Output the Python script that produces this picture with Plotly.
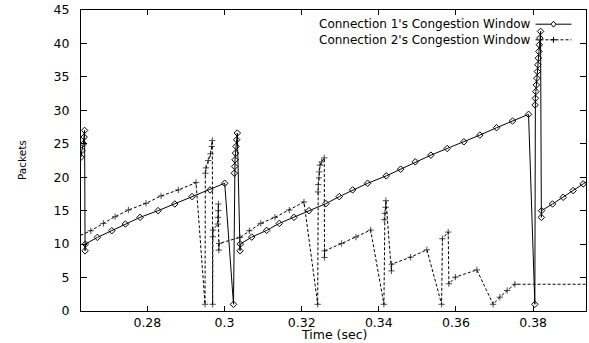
import plotly.graph_objects as go

# Connection 1 congestion window (time in s, packets)
conn1_t = [0.26280, 0.26301, 0.26342, 0.26360, 0.26373, 0.26386, 0.26391,
           0.26705, 0.27078, 0.27430, 0.27811, 0.28277, 0.28710, 0.29158,
           0.29624, 0.30005, 0.30233, 0.30254, 0.30262, 0.30272, 0.30285,
           0.30298, 0.30316, 0.30332, 0.30402, 0.30409, 0.30705, 0.31093,
           0.31420, 0.31800, 0.32189, 0.32629, 0.32974, 0.33321, 0.33710,
           0.34192, 0.34565, 0.34943, 0.35350, 0.35772, 0.36205, 0.36619,
           0.37052, 0.37466, 0.37881, 0.38044, 0.38050, 0.38058, 0.38070,
           0.38083, 0.38096, 0.38109, 0.38122, 0.38135, 0.38148, 0.38161,
           0.38174, 0.38192, 0.38213, 0.38218, 0.38503, 0.38778, 0.39037,
           0.39296, 0.39560]
conn1_w = [23, 24, 25, 26, 27, 9, 10,
           11, 12, 13, 14, 15, 16, 17.1,
           18.1, 19.1, 1, 20.6, 21.6, 22.6, 23.6,
           24.6, 25.6, 26.6, 9, 10, 11.05, 12.05,
           13.1, 14.0, 15.0, 16.05, 17.1, 18.1, 19.1,
           20.2, 21.2, 22.3, 23.3, 24.3, 25.3, 26.3,
           27.4, 28.4, 29.4, 1, 30.8, 31.8, 32.8,
           33.8, 34.8, 35.8, 36.8, 37.8, 38.8, 39.8,
           40.8, 41.8, 14, 15, 16, 17, 18,
           19, 20]

# Connection 2 congestion window (time in s, packets)
conn2_t = [0.26153, 0.26534, 0.26860, 0.27163, 0.27508, 0.27966, 0.28355,
           0.28803, 0.29262, 0.29495, 0.29503, 0.29521, 0.29580, 0.29637,
           0.29668, 0.29684, 0.29692, 0.29697, 0.29702, 0.29824, 0.29832,
           0.29837, 0.29842, 0.29852, 0.29860, 0.30402, 0.30643, 0.30938,
           0.31308, 0.31679, 0.32060, 0.32415, 0.32422, 0.32430, 0.32448,
           0.32456, 0.32474, 0.32518, 0.32586, 0.32591, 0.32596, 0.33036,
           0.33407, 0.33788, 0.34132, 0.34140, 0.34158, 0.34176, 0.34184,
           0.34326, 0.34332, 0.34824, 0.35246, 0.35627, 0.35648, 0.35798,
           0.35816, 0.35984, 0.36541, 0.36963, 0.37137, 0.37327, 0.37526,
           0.40000]
conn2_w = [11, 12, 13.1, 14.1, 15.1, 16.1, 17.2,
           18.1, 19.2, 1, 20.6, 21.4, 22.5, 23.5,
           24.6, 25.5, 1, 11.1, 12.1, 13, 14,
           15, 16, 9.1, 10.1, 11, 12, 13.1,
           14, 15.1, 16.3, 1, 17.8, 18.9, 19.9,
           20.8, 21.8, 22.3, 22.9, 8, 9, 10.1,
           11.05, 12.1, 1, 13.65, 14.6, 15.5, 16.5,
           6, 7, 8.05, 9.15, 1, 10.8, 11.8,
           4.07, 5.06, 6.15, 1, 2.07, 3.07, 4.0,
           4.0]
conn2_markers = [True] * (len(conn2_t) - 1) + [False]

x_tickvals = [0.28, 0.30, 0.32, 0.34, 0.36, 0.38]
x_ticktext = ["0.28", "0.3", "0.32", "0.34", "0.36", "0.38"]
y_tickvals = [0, 5, 10, 15, 20, 25, 30, 35, 40, 45]

legend_labels = ["Connection 1's Congestion Window", "Connection 2's Congestion Window"]

FONT = "DejaVu Sans"
TXT = 12.5
LEG = 12

fig = go.Figure()
fig.add_trace(go.Scatter(
    x=conn1_t, y=conn1_w, mode="lines+markers",
    line=dict(color="black", width=1),
    marker=dict(symbol="diamond-open", size=5, color="black", line=dict(width=1, color="black")),
    showlegend=False))
fig.add_trace(go.Scatter(
    x=conn2_t, y=conn2_w, mode="lines+markers",
    line=dict(color="black", width=1, dash="3px,2px"),
    marker=dict(symbol="cross-thin", size=[4.5 if m else 0 for m in conn2_markers],
                color="black", line=dict(width=1, color="black")),
    showlegend=False))

axis_common = dict(showline=True, linecolor="black", linewidth=1, mirror="ticks",
                   ticks="inside", tickcolor="black", tickwidth=1,
                   showgrid=False, zeroline=False,
                   tickfont=dict(family=FONT, size=TXT, color="black"))

fig.update_xaxes(range=[0.2628, 0.3937], tickvals=x_tickvals, ticktext=x_ticktext,
                 ticklen=5, ticklabelstandoff=0, **axis_common)
fig.update_yaxes(range=[0, 45], tickvals=y_tickvals, ticklen=6,
                 ticklabelstandoff=8, **axis_common)

W, H = 589, 343
L, R, T, B = 81, 3, 10, 32
pw, ph = W - L - R, H - T - B

def px_x(px):
    return (px - L) / pw

def px_y(py):
    return (H - B - py) / ph

line_gap = LEG * 1.3
rows_y = [32 - line_gap / 2, 32 + line_gap / 2]

annotations = [
    dict(text="Time (sec)", x=px_x(333.5), y=px_y(334), xref="paper", yref="paper",
         showarrow=False, xanchor="center", yanchor="middle",
         font=dict(family=FONT, size=TXT, color="black")),
    dict(text="Packets", x=px_x(22), y=px_y(160), xref="paper", yref="paper",
         showarrow=False, xanchor="center", yanchor="middle", textangle=-90,
         font=dict(family=FONT, size=10.5, color="black")),
    dict(text="<br>".join(legend_labels), x=px_x(533), y=px_y(32), xref="paper", yref="paper",
         showarrow=False, xanchor="right", yanchor="middle", align="right",
         font=dict(family=FONT, size=LEG, color="black")),
]

shapes = []
# legend samples
shapes.append(dict(type="line", xref="paper", yref="paper", x0=px_x(535.5), x1=px_x(571.5),
                   y0=px_y(rows_y[0]), y1=px_y(rows_y[0]), line=dict(color="black", width=1)))
shapes.append(dict(type="line", xref="paper", yref="paper", x0=px_x(535.5), x1=px_x(571.5),
                   y0=px_y(rows_y[1]), y1=px_y(rows_y[1]), line=dict(color="black", width=1, dash="3px,2px")))
cx, cy = 553.5, rows_y[0]
shapes.append(dict(type="path", xref="paper", yref="paper",
                   path=f"M {px_x(cx-2.5)},{px_y(cy)} L {px_x(cx)},{px_y(cy-3)} L {px_x(cx+2.5)},{px_y(cy)} L {px_x(cx)},{px_y(cy+3)} Z",
                   fillcolor="white", line=dict(color="black", width=1)))
cx, cy = 553.5, rows_y[1]
shapes.append(dict(type="line", xref="paper", yref="paper", x0=px_x(cx-3), x1=px_x(cx+3),
                   y0=px_y(cy), y1=px_y(cy), line=dict(color="black", width=1)))
shapes.append(dict(type="line", xref="paper", yref="paper", x0=px_x(cx), x1=px_x(cx),
                   y0=px_y(cy-3), y1=px_y(cy+3), line=dict(color="black", width=1)))

fig.update_layout(width=W, height=H, margin=dict(l=L, r=R, t=T, b=B, pad=0),
                  paper_bgcolor="white", plot_bgcolor="white",
                  annotations=annotations, shapes=shapes,
                  font=dict(family=FONT, color="black"))

fig.write_html("out.html")
